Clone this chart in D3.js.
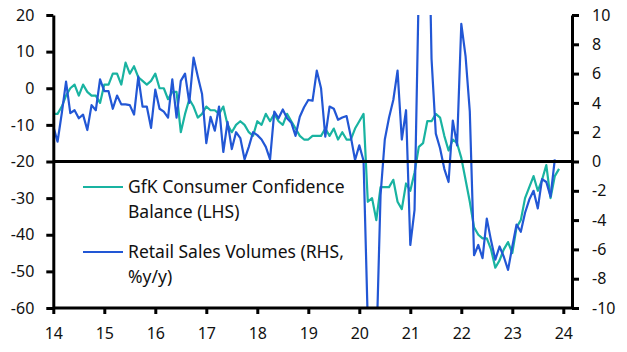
<!DOCTYPE html>
<html><head><meta charset="utf-8">
<script src="https://cdn.jsdelivr.net/npm/d3@7"></script>
<style>
body{margin:0;background:#fff;}
svg{display:block;}
text{font-family:"Noto Sans",sans-serif;fill:#111;}
</style>
</head><body>
<svg id="c" width="627" height="352"></svg>
<script>
// Monthly series starting January 2014
const startYear = 2014;
// GfK Consumer Confidence balance (LHS), Jan 2014 - Dec 2023
const gfk = [
  -7,-7,-5,-2,0,1,-2,1,-1,-2,-2,-4,
  1,1,4,4,1,7,4,6,3,2,1,2,
  4,0,0,-3,-1,-1,-12,-7,-3,-5,-8,-7,
  -5,-6,-6,-7,-5,-10,-12,-10,-9,-10,-12,-13,
  -9,-10,-7,-9,-7,-9,-10,-7,-9,-11,-13,-14,
  -14,-13,-13,-13,-11,-13,-11,-14,-12,-14,-14,-11,
  -9,-7,-31,-30,-36,-27,-27,-27,-25,-31,-33,-26,
  -28,-23,-16,-15,-9,-9,-7,-8,-13,-17,-14,-15,
  -19,-25,-31,-38,-40,-41,-41,-44,-49,-47,-44,-42,
  -45,-38,-36,-30,-27,-24,-28,-25,-21,-30,-24,-22
];
// Retail sales volumes %y/y (RHS), Jan 2014 - Nov 2023
const retail = [
  2.4,1.35,3.3,5.45,3.3,3.5,2.95,3.2,2.15,3.85,3.5,5.6,
  4.8,4.8,3.6,4.5,3.9,3.9,3.85,3.2,5.8,3.75,3.75,2.3,
  4.9,3.6,3.4,3.0,5.6,3.0,5.5,6.0,4.0,7.1,5.8,4.6,
  1.25,3.05,2.1,3.75,0.65,2.7,0.85,2.0,1.6,0.15,1.0,2.0,
  1.8,1.5,1.0,0.15,3.4,2.95,3.55,2.95,2.65,1.75,3.05,3.7,
  4.2,4.15,6.2,5.0,1.7,3.75,3.6,2.85,3.0,3.1,1.7,0.1,
  1.1,0.05,-11,-22,-13,-2.3,1.5,3.0,4.2,6.2,1.5,3.5,
  -5.7,-3.3,12,40,22,7,1.9,0.9,-0.5,-1.4,2.8,1.1,
  9.4,7.2,3.4,-6.4,-5.7,-6.6,-3.9,-5.4,-6.7,-5.8,-6.5,-7.4,
  -5.8,-4.3,-4.8,-3.5,-2.6,-2.0,-3.2,-1.2,-1.4,-2.4,0.15
];
const xTicks = [2014,2015,2016,2017,2018,2019,2020,2021,2022,2023,2024];
const leftTicks = [20,10,0,-10,-20,-30,-40,-50,-60];
const rightTicks = [10,8,6,4,2,0,-2,-4,-6,-8,-10];
const legendItems = [
  {key:"gfk", lines:["GfK Consumer Confidence","Balance (LHS)"]},
  {key:"retail", lines:["Retail Sales Volumes (RHS,","%y/y)"]}
];
const colors = {gfk:"#19b3a1", retail:"#2257d5"};

const svg = d3.select("#c");
const L = 53.3, R = 572, T = 15, B = 308;
const x = d3.scaleLinear().domain([2014,2024]).range([L,563.3]);
const yL = d3.scaleLinear().domain([-60,20]).range([B,T]);
const yR = d3.scaleLinear().domain([-10,10]).range([B,T]);

svg.append("defs").append("clipPath").attr("id","clip")
  .append("rect").attr("x",L).attr("y",T).attr("width",R-L).attr("height",B-T);

const tx = i => x(startYear + i/12);
const lineL = d3.line().x((d,i)=>tx(i)).y(d=>yL(d));
const lineR = d3.line().x((d,i)=>tx(i)).y(d=>yR(d));

const g = svg.append("g").attr("clip-path","url(#clip)");
g.append("path").datum(gfk).attr("d",lineL).attr("fill","none")
  .attr("stroke",colors.gfk).attr("stroke-width",2.2).attr("stroke-linejoin","round");
g.append("path").datum(retail).attr("d",lineR).attr("fill","none")
  .attr("stroke",colors.retail).attr("stroke-width",2.2).attr("stroke-linejoin","round");

// zero line (0 on RHS = -20 on LHS)
svg.append("line").attr("x1",L).attr("x2",R).attr("y1",yR(0)).attr("y2",yR(0))
  .attr("stroke","#000").attr("stroke-width",3);

function styleAxis(sel){
  sel.selectAll("path.domain").attr("stroke","#000").attr("stroke-width",3);
  sel.selectAll(".tick line").attr("stroke","#000").attr("stroke-width",3);
  sel.selectAll("text").attr("font-size",16).attr("fill","#111")
    .attr("font-family","'Noto Sans',sans-serif");
}

const axL = svg.append("g").attr("transform",`translate(${L},0)`)
  .call(d3.axisLeft(yL).tickValues(leftTicks).tickSize(7).tickSizeOuter(0).tickPadding(12).tickFormat(d=>String(d)));
styleAxis(axL);
const axR = svg.append("g").attr("transform",`translate(${R},0)`)
  .call(d3.axisRight(yR).tickValues(rightTicks).tickSize(7).tickSizeOuter(0).tickPadding(13).tickFormat(d=>String(d)));
styleAxis(axR);
const axB = svg.append("g").attr("transform",`translate(0,${B})`)
  .call(d3.axisBottom(x).tickValues(xTicks).tickSize(6).tickSizeOuter(0).tickPadding(14).tickFormat(d=>String(d).slice(2)));
axB.select("path.domain").attr("d",`M${L},0H${R}`);
styleAxis(axB);

// legend
const legY = [187, 252];
legendItems.forEach((it,k)=>{
  svg.append("line").attr("x1",83).attr("x2",123).attr("y1",legY[k]).attr("y2",legY[k])
    .attr("stroke",colors[it.key]).attr("stroke-width",2.2);
  const t = svg.append("text").attr("x",128).attr("y",legY[k]+6).attr("font-size",17.5);
  it.lines.forEach((s,j)=>{
    t.append("tspan").attr("x",128).attr("dy", j===0?0:25).text(s);
  });
});
</script>
</body></html>
